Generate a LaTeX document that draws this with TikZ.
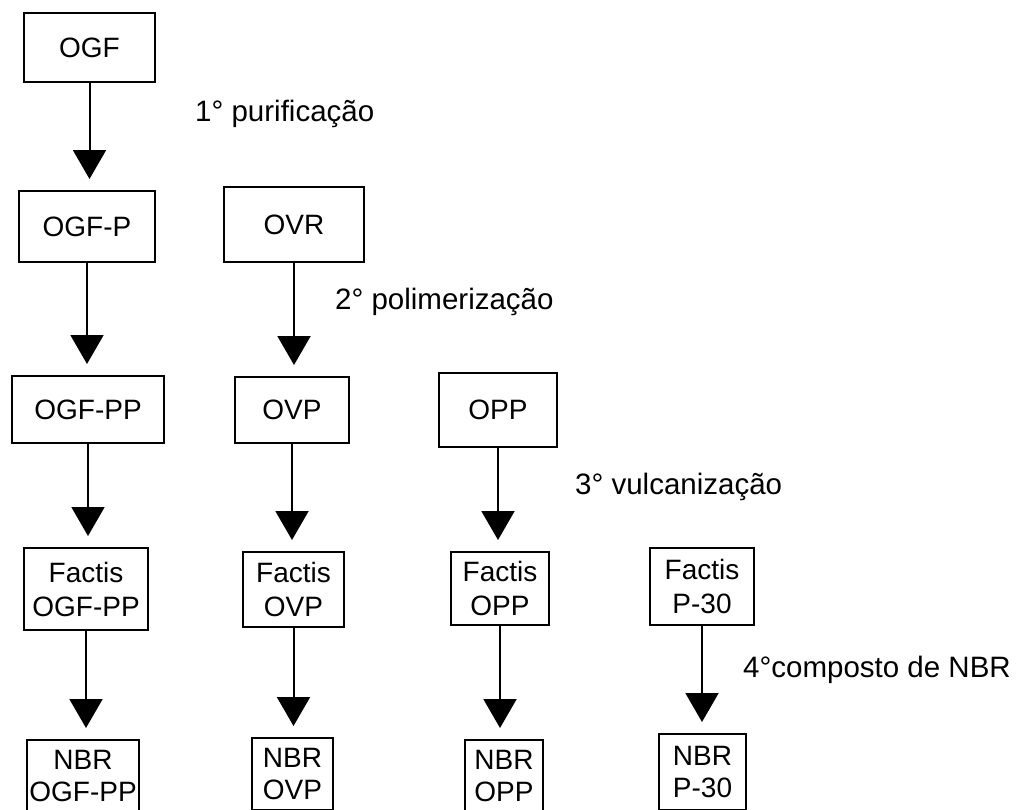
\documentclass[tikz,border=0pt]{standalone}
\usepackage{fontspec}
\setmainfont{Liberation Sans}
\usetikzlibrary{arrows.meta}
\tikzset{
  stage/.style={draw,line width=2pt,inner sep=0pt,align=center,
                font=\fontsize{28}{34}\selectfont},
  flow/.style={line width=2pt,-{Triangle[width=33pt,length=29pt]},
               shorten >=11pt},
  note/.style={anchor=base west,inner sep=0pt,
               font=\fontsize{29.5}{34}\selectfont}
}
\newcommand*{\nbr}{\fontsize{28}{32}\selectfont}

\begin{document}
\begin{tikzpicture}[x=1pt,y=-1pt]
% Page is the reference frame, bottom row runs off it
\useasboundingbox (0,0) rectangle (1020,809);
\clip (0,0) rectangle (1020,809);
% First column
\node [stage,minimum width=131pt,minimum height=69pt] (ogf) at (89.5,47.5) {OGF};
\node [stage,minimum width=136pt,minimum height=71pt] (ogfp) at (87,226.5) {OGF-P};
\node [stage,minimum width=152pt,minimum height=67pt] (ogfpp) at (88,409.5) {OGF-PP};
\node [stage,minimum width=124pt,minimum height=82pt] (fogfpp) at (86,589) {Factis\\OGF-PP};
\node [stage,font=\nbr,minimum width=112pt,minimum height=71pt] (nogfpp) at (83,775.5) {NBR\\OGF-PP};
% Second column
\node [stage,minimum width=140pt,minimum height=75pt] (ovr) at (294,224.5) {OVR};
\node [stage,minimum width=114pt,minimum height=66pt] (ovp) at (292,410) {OVP};
\node [stage,minimum width=101pt,minimum height=75pt] (fovp) at (293.5,589.5) {Factis\\OVP};
\node [stage,font=\nbr,minimum width=81pt,minimum height=72pt] (novp) at (292.5,774) {NBR\\OVP};
% Third column
\node [stage,minimum width=118pt,minimum height=74pt] (opp) at (498,410) {OPP};
\node [stage,minimum width=98pt,minimum height=73pt] (fopp) at (500,588.5) {Factis\\OPP};
\node [stage,font=\nbr,minimum width=78pt,minimum height=71pt] (nopp) at (504,775.5) {NBR\\OPP};
% Fourth column
\node [stage,minimum width=104pt,minimum height=77pt] (fp30) at (702,586.5) {Factis\\P-30};
\node [stage,font=\nbr,minimum width=87pt,minimum height=76pt] (np30) at (702.5,772) {NBR\\P-30};
% Process steps
\draw [flow] (ogf) -- (ogf |- ogfp.north);
\draw [flow] (ogfp) -- (ogfp |- ogfpp.north);
\draw [flow] (ovr) -- (ovr |- ovp.north);
\draw [flow] (ogfpp) -- (ogfpp |- fogfpp.north);
\draw [flow] (ovp) -- (ovp |- fovp.north);
\draw [flow] (opp) -- (opp |- fopp.north);
\draw [flow] (fogfpp) -- (fogfpp |- nogfpp.north);
\draw [flow] (fovp) -- (fovp |- novp.north);
\draw [flow] (fopp) -- (fopp |- nopp.north);
\draw [flow] (fp30) -- (fp30 |- np30.north);
% Step names
\node [note] (step1) at (195,121) {1° purificação};
\node [note] (step2) at (335,309) {2° polimerização};
\node [note] (step3) at (575,494) {3° vulcanização};
\node [note] (step4) at (743,677) {4°composto de NBR};
\end{tikzpicture}
\end{document}
